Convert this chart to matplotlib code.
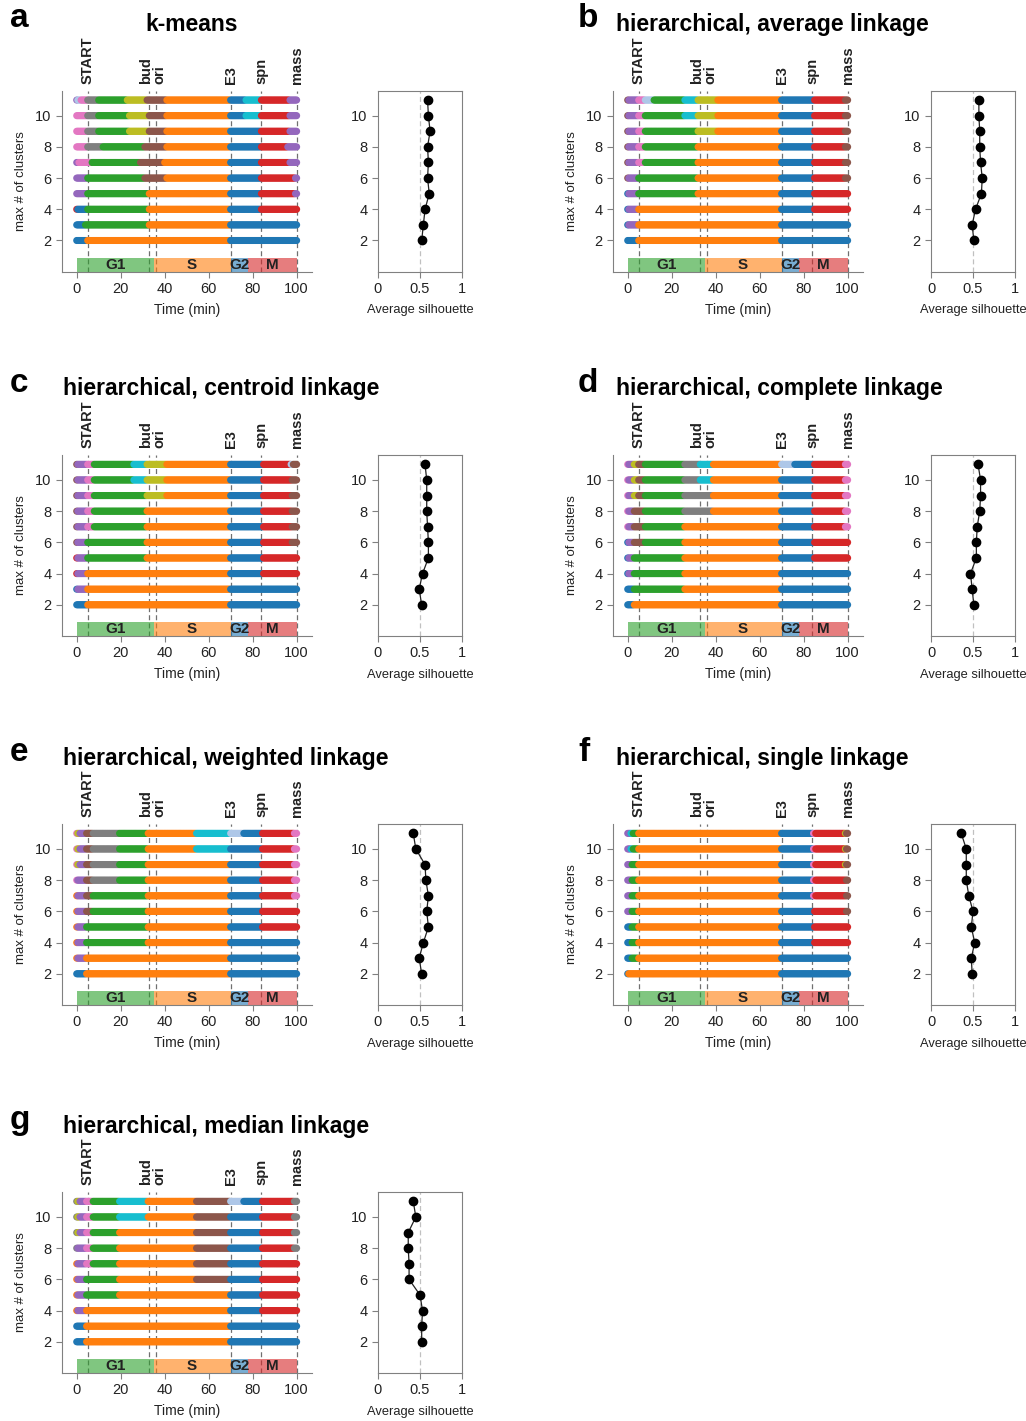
import matplotlib
matplotlib.use("Agg")
import matplotlib.pyplot as plt
import numpy as np

plt.rcParams['font.family'] = ['Liberation Sans', 'DejaVu Sans']

# cluster colours (tab10 + light blue)
palette = {
    'blue': '#1f77b4', 'orange': '#ff7f0e', 'green': '#2ca02c', 'red': '#d62728',
    'purple': '#9467bd', 'brown': '#8c564b', 'pink': '#e377c2', 'gray': '#7f7f7f',
    'olive': '#bcbd22', 'cyan': '#17becf', 'lightblue': '#aec7e8',
}

k_values = list(range(2, 12))
times = np.arange(0, 100.5, 0.5)

# cell-cycle events (min)
event_names = ['START', 'bud', 'ori', 'E3', 'spn', 'mass']
event_times = [5, 33, 36, 70, 84, 100]
event_nudge = [0, -1.6, 1.6, 0, 0, 0]

# phases (min)
phase_names = ['G1', 'S', 'G2', 'M']
phase_starts = [0, 35, 70, 78]
phase_ends = [35, 70, 78, 100]
phase_colors = ['green', 'orange', 'blue', 'red']

# cluster assignment per row, k = 2..11, as (start time, cluster colour)
kmeans_rows = [
    [(0, 'blue'), (5, 'orange'), (70, 'blue')],
    [(0, 'blue'), (4, 'green'), (33, 'orange'), (70, 'blue')],
    [(0, 'red'), (0.5, 'blue'), (5, 'green'), (33, 'orange'), (70, 'blue'), (84, 'red')],
    [(0, 'purple'), (5, 'green'), (33, 'orange'), (70, 'blue'), (84, 'red'), (99.5, 'purple')],
    [(0, 'purple'), (5, 'green'), (31, 'brown'), (41, 'orange'), (70, 'blue'), (84, 'red'), (99.5, 'purple')],
    [(0, 'purple'), (1, 'pink'), (7, 'green'), (29, 'brown'), (40, 'orange'), (70, 'blue'), (84, 'red'), (97, 'purple')],
    [(0, 'pink'), (5, 'gray'), (12, 'green'), (31, 'brown'), (41, 'orange'), (70, 'blue'), (84, 'red'), (96, 'purple')],
    [(0, 'pink'), (5, 'gray'), (10, 'green'), (24, 'olive'), (33, 'brown'), (41, 'orange'), (70, 'blue'), (84, 'red'), (97, 'purple')],
    [(0, 'pink'), (5, 'gray'), (10, 'green'), (24, 'olive'), (33, 'brown'), (41, 'orange'), (70, 'blue'), (77, 'cyan'), (84, 'red'), (97, 'purple')],
    [(0, 'purple'), (0.5, 'lightblue'), (2, 'pink'), (5, 'gray'), (10, 'green'), (23, 'olive'), (32, 'brown'), (41, 'orange'), (70, 'blue'), (77, 'cyan'), (84, 'red'), (97, 'purple')],
]
average_rows = [
    [(0, 'blue'), (5, 'orange'), (70, 'blue')],
    [(0, 'blue'), (0.5, 'purple'), (5, 'orange'), (70, 'blue')],
    [(0, 'blue'), (0.5, 'purple'), (5, 'orange'), (70, 'blue'), (85, 'red')],
    [(0, 'blue'), (0.5, 'purple'), (5, 'green'), (32, 'orange'), (70, 'blue'), (85, 'red')],
    [(0, 'brown'), (0.5, 'purple'), (5, 'green'), (32, 'orange'), (70, 'blue'), (85, 'red'), (99, 'brown')],
    [(0, 'brown'), (0.5, 'purple'), (5, 'pink'), (8, 'green'), (32, 'orange'), (70, 'blue'), (85, 'red'), (99, 'brown')],
    [(0, 'brown'), (0.5, 'purple'), (5, 'pink'), (8, 'green'), (32, 'orange'), (70, 'blue'), (85, 'red'), (99, 'brown')],
    [(0, 'brown'), (0.5, 'purple'), (5, 'pink'), (8, 'green'), (32, 'olive'), (41, 'orange'), (70, 'blue'), (85, 'red'), (99, 'brown')],
    [(0, 'brown'), (0.5, 'purple'), (5, 'pink'), (8, 'green'), (26, 'cyan'), (32, 'olive'), (41, 'orange'), (70, 'blue'), (85, 'red'), (99, 'brown')],
    [(0, 'brown'), (0.5, 'purple'), (5, 'pink'), (8, 'lightblue'), (12, 'green'), (26, 'cyan'), (32, 'olive'), (41, 'orange'), (70, 'blue'), (85, 'red'), (99, 'brown')],
]
centroid_rows = [
    [(0, 'blue'), (5, 'orange'), (70, 'blue')],
    [(0, 'blue'), (0.5, 'purple'), (5, 'orange'), (70, 'blue')],
    [(0, 'red'), (0.5, 'purple'), (5, 'orange'), (70, 'blue'), (85, 'red')],
    [(0, 'red'), (0.5, 'purple'), (5, 'green'), (32, 'orange'), (70, 'blue'), (85, 'red')],
    [(0, 'brown'), (0.5, 'purple'), (5, 'green'), (32, 'orange'), (70, 'blue'), (85, 'red'), (98, 'brown')],
    [(0, 'brown'), (0.5, 'purple'), (5, 'pink'), (8, 'green'), (32, 'orange'), (70, 'blue'), (85, 'red'), (98, 'brown')],
    [(0, 'brown'), (0.5, 'purple'), (5, 'pink'), (8, 'green'), (32, 'orange'), (70, 'blue'), (85, 'red'), (98, 'brown')],
    [(0, 'brown'), (0.5, 'purple'), (5, 'pink'), (8, 'green'), (32, 'olive'), (41, 'orange'), (70, 'blue'), (85, 'red'), (98, 'brown')],
    [(0, 'brown'), (0.5, 'purple'), (5, 'pink'), (8, 'green'), (26, 'cyan'), (32, 'olive'), (41, 'orange'), (70, 'blue'), (85, 'red'), (98, 'brown')],
    [(0, 'brown'), (0.5, 'purple'), (5, 'pink'), (8, 'green'), (26, 'cyan'), (32, 'olive'), (41, 'orange'), (70, 'blue'), (85, 'red'), (97.5, 'lightblue'), (98.5, 'brown')],
]
complete_rows = [
    [(0, 'blue'), (3, 'orange'), (70, 'blue')],
    [(0, 'blue'), (3, 'green'), (26, 'orange'), (70, 'blue')],
    [(0, 'blue'), (0.5, 'purple'), (3, 'green'), (26, 'orange'), (70, 'blue')],
    [(0, 'blue'), (0.5, 'purple'), (3, 'green'), (26, 'orange'), (70, 'blue'), (85, 'red')],
    [(0, 'blue'), (0.5, 'purple'), (3, 'brown'), (8, 'green'), (26, 'orange'), (70, 'blue'), (85, 'red')],
    [(0, 'pink'), (0.5, 'purple'), (3, 'brown'), (8, 'green'), (26, 'orange'), (70, 'blue'), (85, 'red'), (99, 'pink')],
    [(0, 'pink'), (0.5, 'purple'), (3, 'brown'), (8, 'green'), (26, 'gray'), (39, 'orange'), (70, 'blue'), (85, 'red'), (99, 'pink')],
    [(0, 'pink'), (0.5, 'purple'), (3, 'olive'), (5, 'brown'), (8, 'green'), (26, 'gray'), (39, 'orange'), (70, 'blue'), (85, 'red'), (99, 'pink')],
    [(0, 'pink'), (0.5, 'purple'), (3, 'olive'), (5, 'brown'), (8, 'green'), (26, 'gray'), (33, 'cyan'), (39, 'orange'), (70, 'blue'), (85, 'red'), (99, 'pink')],
    [(0, 'pink'), (0.5, 'purple'), (3, 'olive'), (5, 'brown'), (8, 'green'), (26, 'gray'), (33, 'cyan'), (39, 'orange'), (70, 'lightblue'), (76, 'blue'), (85, 'red'), (99, 'pink')],
]
weighted_rows = [
    [(0, 'blue'), (4.5, 'orange'), (70, 'blue')],
    [(0, 'orange'), (0.5, 'purple'), (4.5, 'orange'), (70, 'blue')],
    [(0, 'orange'), (0.5, 'purple'), (4.5, 'green'), (32.5, 'orange'), (70, 'blue')],
    [(0, 'orange'), (0.5, 'purple'), (4.5, 'green'), (32.5, 'orange'), (70, 'blue'), (84.5, 'red')],
    [(0, 'orange'), (0.5, 'purple'), (4.5, 'brown'), (7.5, 'green'), (32.5, 'orange'), (70, 'blue'), (84.5, 'red')],
    [(0, 'orange'), (0.5, 'purple'), (4.5, 'brown'), (7.5, 'green'), (32.5, 'orange'), (70, 'blue'), (84.5, 'red'), (99, 'pink')],
    [(0, 'pink'), (0.5, 'purple'), (4.5, 'brown'), (7.5, 'gray'), (19.5, 'green'), (32.5, 'orange'), (70, 'blue'), (84.5, 'red'), (99, 'pink')],
    [(0, 'pink'), (0.5, 'olive'), (1.5, 'purple'), (4.5, 'brown'), (7.5, 'gray'), (19.5, 'green'), (32.5, 'orange'), (70, 'blue'), (84.5, 'red'), (99, 'pink')],
    [(0, 'pink'), (0.5, 'olive'), (1.5, 'purple'), (4.5, 'brown'), (7.5, 'gray'), (19.5, 'green'), (32.5, 'orange'), (54.5, 'cyan'), (70, 'blue'), (84.5, 'red'), (99, 'pink')],
    [(0, 'pink'), (0.5, 'olive'), (1.5, 'purple'), (4.5, 'brown'), (7.5, 'gray'), (19.5, 'green'), (32.5, 'orange'), (54.5, 'cyan'), (70, 'lightblue'), (76, 'blue'), (84.5, 'red'), (99, 'pink')],
]
single_rows = [
    [(0, 'blue'), (0.5, 'orange'), (70, 'blue')],
    [(0, 'blue'), (2, 'green'), (5, 'orange'), (70, 'blue')],
    [(0, 'blue'), (2, 'green'), (5, 'orange'), (70, 'blue'), (85, 'red')],
    [(0, 'blue'), (2, 'green'), (5, 'orange'), (70, 'blue'), (85, 'red')],
    [(0, 'purple'), (2, 'green'), (5, 'orange'), (70, 'blue'), (85, 'red'), (99.5, 'brown')],
    [(0, 'purple'), (2, 'green'), (5, 'orange'), (70, 'blue'), (84.5, 'pink'), (85.5, 'red'), (99.5, 'brown')],
    [(0, 'purple'), (2, 'green'), (5, 'orange'), (70, 'blue'), (84.5, 'pink'), (85.5, 'red'), (99.5, 'brown')],
    [(0, 'purple'), (2, 'green'), (5, 'orange'), (70, 'blue'), (84.5, 'pink'), (85.5, 'red'), (99, 'olive'), (99.5, 'brown')],
    [(0, 'purple'), (1.5, 'cyan'), (2.5, 'green'), (5, 'orange'), (70, 'blue'), (84.5, 'pink'), (85.5, 'red'), (99, 'olive'), (99.5, 'brown')],
    [(0, 'purple'), (1.5, 'cyan'), (2.5, 'green'), (5, 'orange'), (70, 'blue'), (84.5, 'pink'), (85.5, 'red'), (99, 'olive'), (99.5, 'brown')],
]
median_rows = [
    [(0, 'blue'), (4.5, 'orange'), (70, 'blue')],
    [(0, 'blue'), (4.5, 'orange'), (70, 'blue')],
    [(0, 'orange'), (0.5, 'purple'), (4.5, 'orange'), (70, 'blue'), (84.5, 'red')],
    [(0, 'orange'), (0.5, 'purple'), (4.5, 'green'), (19.5, 'orange'), (70, 'blue'), (84.5, 'red')],
    [(0, 'orange'), (0.5, 'purple'), (4.5, 'green'), (19.5, 'orange'), (54.5, 'brown'), (70, 'blue'), (84.5, 'red')],
    [(0, 'orange'), (0.5, 'purple'), (4.5, 'pink'), (7.5, 'green'), (19.5, 'orange'), (54.5, 'brown'), (70, 'blue'), (84.5, 'red')],
    [(0, 'gray'), (0.5, 'purple'), (4.5, 'pink'), (7.5, 'green'), (19.5, 'orange'), (54.5, 'brown'), (70, 'blue'), (84.5, 'red'), (99, 'gray')],
    [(0, 'gray'), (0.5, 'olive'), (1.5, 'purple'), (4.5, 'pink'), (7.5, 'green'), (19.5, 'orange'), (54.5, 'brown'), (70, 'blue'), (84.5, 'red'), (99, 'gray')],
    [(0, 'gray'), (0.5, 'olive'), (1.5, 'purple'), (4.5, 'pink'), (7.5, 'green'), (19.5, 'cyan'), (32.5, 'orange'), (54.5, 'brown'), (70, 'blue'), (84.5, 'red'), (99, 'gray')],
    [(0, 'gray'), (0.5, 'olive'), (1.5, 'purple'), (4.5, 'pink'), (7.5, 'green'), (19.5, 'cyan'), (32.5, 'orange'), (54.5, 'brown'), (70, 'lightblue'), (76, 'blue'), (84.5, 'red'), (99, 'gray')],
]

# average silhouette, k = 2..11
kmeans_sil = [0.52, 0.54, 0.56, 0.61, 0.59, 0.60, 0.59, 0.62, 0.60, 0.59]
average_sil = [0.51, 0.49, 0.53, 0.60, 0.61, 0.59, 0.58, 0.58, 0.57, 0.57]
centroid_sil = [0.52, 0.49, 0.53, 0.60, 0.60, 0.59, 0.58, 0.58, 0.58, 0.56]
complete_sil = [0.51, 0.49, 0.47, 0.54, 0.54, 0.55, 0.58, 0.59, 0.59, 0.56]
weighted_sil = [0.52, 0.49, 0.54, 0.60, 0.58, 0.60, 0.57, 0.56, 0.45, 0.42]
single_sil = [0.49, 0.48, 0.52, 0.48, 0.50, 0.45, 0.42, 0.42, 0.42, 0.36]
median_sil = [0.52, 0.52, 0.53, 0.50, 0.37, 0.37, 0.36, 0.36, 0.45, 0.42]

panel_letters = ['a', 'b', 'c', 'd', 'e', 'f', 'g']
panel_titles = ['k-means', 'hierarchical, average linkage', 'hierarchical, centroid linkage',
                'hierarchical, complete linkage', 'hierarchical, weighted linkage',
                'hierarchical, single linkage', 'hierarchical, median linkage']
panel_rows = [kmeans_rows, average_rows, centroid_rows, complete_rows,
              weighted_rows, single_rows, median_rows]
panel_sil = [kmeans_sil, average_sil, centroid_sil, complete_sil,
             weighted_sil, single_sil, median_sil]

W, H = 1026, 1421
fig = plt.figure(figsize=(W / 100, H / 100), dpi=100)
spine_col = '#808080'
text_col = '#222222'


def px_axes(left, top, width, height):
    return fig.add_axes([left / W, 1 - (top + height) / H, width / W, height / H])


def row_colors(segments):
    starts = np.array([s for s, _ in segments])
    idx = np.searchsorted(starts, times, side='right') - 1
    return [palette[segments[i][1]] for i in idx]


tops = [90.7, 455, 824, 1192]
col_main_left = [62, 613]
col_sil_left = [378, 931]
col_title_left = [63, 616]

for p in range(7):
    r, c = p // 2, p % 2
    top = tops[r]
    ax = px_axes(col_main_left[c], top, 250, 181)
    ax.set_xlim(-6.7, 107)
    ax.set_ylim(0, 11.6)

    for t in event_times:
        ax.axvline(t, color='#707070', ls=(0, (4, 2.5)), lw=0.9, zorder=1)
    for name, t, dx in zip(event_names, event_times, event_nudge):
        ax.text(t + dx, 12.05, name, rotation=90, ha='center', va='bottom',
                fontsize=10.5, fontweight='bold', color=text_col)

    for k, segs in zip(k_values, panel_rows[p]):
        ax.scatter(times, np.full(times.shape, k), c=row_colors(segs), s=26,
                   marker='o', linewidths=0, zorder=3)

    for name, s0, s1, col in zip(phase_names, phase_starts, phase_ends, phase_colors):
        ax.bar((s0 + s1) / 2, 0.9, width=s1 - s0, bottom=0, color=palette[col],
               alpha=0.6, linewidth=0, zorder=2)
        ax.text((s0 + s1) / 2, 0.42, name, ha='center', va='center',
                fontsize=11, fontweight='bold', color='#222222', zorder=4)

    ax.set_xticks([0, 20, 40, 60, 80, 100])
    ax.set_yticks([2, 4, 6, 8, 10])
    ax.spines[['top', 'right']].set_visible(False)
    for sp in ['left', 'bottom']:
        ax.spines[sp].set_color(spine_col)
    ax.tick_params(colors=spine_col, labelcolor=text_col, labelsize=10.5, length=4)
    ax.set_xlabel('Time (min)', fontsize=10, color=text_col, labelpad=5)
    ax.set_ylabel('max # of clusters', fontsize=9.5, color=text_col, labelpad=6)

    # silhouette panel
    sx = px_axes(col_sil_left[c], top, 84, 181)
    sx.set_xlim(0, 1)
    sx.set_ylim(0, 11.6)
    sx.axvline(0.5, color='#c0c0c0', ls=(0, (4, 2.5)), lw=0.9, zorder=1)
    sx.plot(panel_sil[p], k_values, color='#222222', lw=0.9, marker='o',
            markersize=6, markerfacecolor='black', markeredgecolor='black', zorder=3)
    sx.set_xticks([0, 0.5, 1])
    sx.set_xticklabels(['0', '0.5', '1'])
    sx.set_yticks([2, 4, 6, 8, 10])
    for sp in sx.spines.values():
        sp.set_color(spine_col)
    sx.tick_params(colors=spine_col, labelcolor=text_col, labelsize=10.5, length=4)
    sx.set_xlabel('Average silhouette', fontsize=9.3, color=text_col, labelpad=6)

    # letter and title
    fig.text((10 + c * 568) / W, 1 - (top - 72) / H, panel_letters[p],
             fontsize=24, fontweight='bold', ha='left', va='center')
    tx = 145 if p == 0 else col_title_left[c]
    fig.text(tx / W, 1 - (top - 66) / H, panel_titles[p], fontsize=16.5,
             fontweight='bold', ha='left', va='center')

fig.savefig('out.png', dpi=100, facecolor='white')
